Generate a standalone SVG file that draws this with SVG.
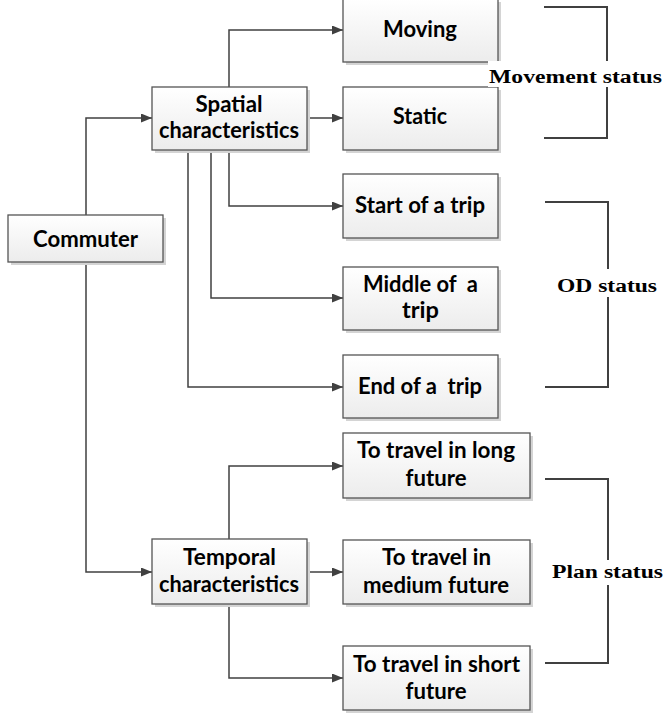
<svg xmlns="http://www.w3.org/2000/svg" width="665" height="715" viewBox="0 0 665 715">
<defs>
<linearGradient id="g" x1="0" y1="0" x2="0" y2="1">
<stop offset="0" stop-color="#ffffff"/>
<stop offset="1" stop-color="#ececec"/>
</linearGradient>
<marker id="ah" markerUnits="userSpaceOnUse" markerWidth="11" markerHeight="9" refX="11" refY="4.5" orient="auto">
<path d="M0,0 L11,4.5 L0,9 z" fill="#404040"/>
</marker>
</defs>
<style>
.sh{fill:#d4d4d4}
.bx{fill:url(#g);stroke:#555;stroke-width:1.3}
.t{font-family:Lato,"Open Sans","Liberation Sans",sans-serif;font-weight:bold;font-size:22px;fill:#000;text-anchor:middle}
.c{fill:none;stroke:#404040;stroke-width:1.5}
.br{fill:none;stroke:#404040;stroke-width:2}
.lb{font-family:"Liberation Serif","Times New Roman",serif;font-weight:bold;font-size:18.5px;fill:#000}
</style>
<g id="connectors">
<path class="c" d="M86,215 V118 H152" marker-end="url(#ah)"/>
<path class="c" d="M86,262 V572 H152" marker-end="url(#ah)"/>
<path class="c" d="M229,87 V30 H343" marker-end="url(#ah)"/>
<path class="c" d="M307,118 H343" marker-end="url(#ah)"/>
<path class="c" d="M229,150 V206 H343" marker-end="url(#ah)"/>
<path class="c" d="M211,150 V298 H343" marker-end="url(#ah)"/>
<path class="c" d="M188,150 V387 H343" marker-end="url(#ah)"/>
<path class="c" d="M229,539 V466 H343" marker-end="url(#ah)"/>
<path class="c" d="M307,572 H343" marker-end="url(#ah)"/>
<path class="c" d="M229,604 V678 H343" marker-end="url(#ah)"/>
</g>
<g id="commuter">
<rect class="sh" x="11" y="218" width="155" height="47"/>
<rect class="bx" x="8" y="215" width="155" height="47"/>
<text class="t" x="85.5" y="247" textLength="105" lengthAdjust="spacingAndGlyphs">Commuter</text>
</g>
<g id="spatial">
<rect class="sh" x="155" y="90" width="155" height="63"/>
<rect class="bx" x="152" y="87" width="155" height="63"/>
<text class="t" x="229" y="112" textLength="67" lengthAdjust="spacingAndGlyphs">Spatial</text>
<text class="t" x="229" y="138" textLength="140" lengthAdjust="spacingAndGlyphs">characteristics</text>
</g>
<g id="temporal">
<rect class="sh" x="155" y="542" width="155" height="65"/>
<rect class="bx" x="152" y="539" width="155" height="65"/>
<text class="t" x="229.5" y="565" textLength="93" lengthAdjust="spacingAndGlyphs">Temporal</text>
<text class="t" x="229" y="592" textLength="140" lengthAdjust="spacingAndGlyphs">characteristics</text>
</g>
<g id="moving">
<rect class="sh" x="346" y="2" width="155" height="63"/>
<rect class="bx" x="343" y="-1" width="155" height="63"/>
<text class="t" x="420" y="37" textLength="74" lengthAdjust="spacingAndGlyphs">Moving</text>
</g>
<g id="static">
<rect class="sh" x="346" y="90" width="155" height="63"/>
<rect class="bx" x="343" y="87" width="155" height="63"/>
<text class="t" x="420" y="124" textLength="54" lengthAdjust="spacingAndGlyphs">Static</text>
</g>
<g id="start">
<rect class="sh" x="346" y="177" width="155" height="64"/>
<rect class="bx" x="343" y="174" width="155" height="64"/>
<text class="t" x="420" y="213" textLength="130" lengthAdjust="spacingAndGlyphs">Start of a trip</text>
</g>
<g id="middle">
<rect class="sh" x="346" y="270" width="155" height="63"/>
<rect class="bx" x="343" y="267" width="155" height="63"/>
<text class="t" x="420.5" y="292" textLength="115" lengthAdjust="spacingAndGlyphs" xml:space="preserve">Middle of  a</text>
<text class="t" x="420.5" y="318" textLength="37" lengthAdjust="spacingAndGlyphs">trip</text>
</g>
<g id="end">
<rect class="sh" x="346" y="358" width="155" height="63"/>
<rect class="bx" x="343" y="355" width="155" height="63"/>
<text class="t" x="420" y="394" textLength="124" lengthAdjust="spacingAndGlyphs" xml:space="preserve">End of a  trip</text>
</g>
<g id="long">
<rect class="sh" x="346" y="436" width="187" height="65"/>
<rect class="bx" x="343" y="433" width="187" height="65"/>
<text class="t" x="436" y="458" textLength="158" lengthAdjust="spacingAndGlyphs">To travel in long</text>
<text class="t" x="436" y="486" textLength="61" lengthAdjust="spacingAndGlyphs">future</text>
</g>
<g id="medium">
<rect class="sh" x="346" y="543" width="187" height="64"/>
<rect class="bx" x="343" y="540" width="187" height="64"/>
<text class="t" x="436.5" y="565" textLength="109" lengthAdjust="spacingAndGlyphs">To travel in</text>
<text class="t" x="436" y="593" textLength="146" lengthAdjust="spacingAndGlyphs">medium future</text>
</g>
<g id="short">
<rect class="sh" x="346" y="649" width="187" height="64"/>
<rect class="bx" x="343" y="646" width="187" height="64"/>
<text class="t" x="436.5" y="672" textLength="167" lengthAdjust="spacingAndGlyphs">To travel in short</text>
<text class="t" x="436" y="699" textLength="61" lengthAdjust="spacingAndGlyphs">future</text>
</g>
<g id="movement-status">
<path class="br" d="M544,7 H607 V138 H544"/>
<rect x="488" y="61" width="177" height="26" fill="#fff"/>
<text class="lb" x="489" y="83" textLength="173" lengthAdjust="spacingAndGlyphs">Movement status</text>
</g>
<g id="od-status">
<path class="br" d="M545,202 H608 V387 H545"/>
<rect x="555" y="269" width="104" height="28" fill="#fff"/>
<text class="lb" x="557" y="292" textLength="100" lengthAdjust="spacingAndGlyphs">OD status</text>
</g>
<g id="plan-status">
<path class="br" d="M545,479 H608 V663 H545"/>
<rect x="550" y="560" width="115" height="25" fill="#fff"/>
<text class="lb" x="552" y="578" textLength="111" lengthAdjust="spacingAndGlyphs">Plan status</text>
</g>
</svg>
